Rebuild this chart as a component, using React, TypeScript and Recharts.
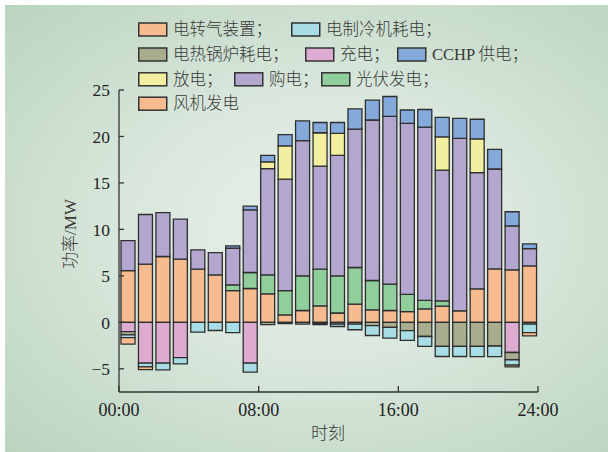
import React from 'react';
import { BarChart, Bar, XAxis, YAxis, Legend, Label } from 'recharts';

// ---------- data ----------
const hours = [0.5, 1.5, 2.5, 3.5, 4.5, 5.5, 6.5, 7.5, 8.5, 9.5, 10.5, 11.5, 12.5, 13.5, 14.5, 15.5, 16.5, 17.5, 18.5, 19.5, 20.5, 21.5, 22.5, 23.5];

// positive side (bottom to top)
const windPower = [5.57, 6.26, 7.08, 6.8, 5.72, 5.1, 3.42, 3.64, 3.06, 0.8, 1.27, 1.77, 1.0, 1.96, 1.34, 1.27, 1.16, 1.45, 1.74, 1.24, 3.6, 5.75, 5.64, 6.08];
const pvPower = [0, 0, 0, 0, 0, 0, 0.6, 1.72, 2.04, 2.62, 3.73, 3.95, 4.0, 3.94, 3.16, 2.83, 1.84, 0.9, 0.57, 0, 0, 0, 0, 0];
const purchasePower = [3.23, 5.34, 4.72, 4.3, 2.08, 2.4, 3.95, 6.74, 11.44, 11.98, 14.55, 11.08, 12.97, 14.9, 17.27, 18.07, 18.4, 18.65, 14.06, 18.56, 12.5, 10.75, 4.74, 1.86];
const dischargePower = [0, 0, 0, 0, 0, 0, 0, 0, 0.72, 3.58, 0, 3.6, 2.37, 0, 0, 0, 0, 0, 3.58, 0, 3.63, 0, 0, 0];
const cchpPower = [0, 0, 0, 0, 0, 0, 0.25, 0.4, 0.71, 1.22, 2.12, 1.1, 1.16, 2.16, 2.13, 2.13, 1.45, 1.9, 2.11, 2.15, 2.12, 2.12, 1.52, 0.5];

// negative side (from zero downward)
const chargePower = [-1.0, -4.4, -4.4, -3.8, 0, 0, 0, -4.4, 0, 0, 0, 0, 0, 0, 0, 0, 0, 0, 0, 0, 0, 0, -3.25, 0];
const boilerPower = [-0.35, 0, 0, 0, 0, 0, 0, 0, -0.25, 0, -0.2, -0.15, -0.2, -0.2, -0.35, -0.55, -0.9, -1.53, -2.6, -2.6, -2.6, -2.55, -0.78, -0.2];
const chillerPower = [-0.3, -0.4, -0.72, -0.68, -1.06, -0.88, -1.1, -0.96, 0, -0.15, 0, -0.1, -0.25, -0.6, -1.07, -1.15, -1.05, -1.07, -1.08, -1.08, -1.1, -1.15, -0.57, -0.9];
const p2gPower = [-0.7, -0.3, 0, 0, 0, 0, 0, 0, 0, 0, 0, 0, 0, 0, 0, 0, 0, 0, 0, 0, 0, 0, -0.2, -0.35];

const xTicks = [0, 8, 16, 24];
const xTickLabels = ['00:00', '08:00', '16:00', '24:00'];
const yTicks = [-5, 0, 5, 10, 15, 20, 25];

const seriesNames: Record<string, string> = {
  wind: '风机发电',
  pv: '光伏发电',
  purchase: '购电',
  discharge: '放电',
  cchp: 'CCHP 供电',
  charge: '充电',
  boiler: '电热锅炉耗电',
  chiller: '电制冷机耗电',
  p2g: '电转气装置',
};

const data = hours.map((h, i) => ({
  hour: h,
  wind: windPower[i],
  pv: pvPower[i],
  purchase: purchasePower[i],
  discharge: dischargePower[i],
  cchp: cchpPower[i],
  charge: chargePower[i],
  boiler: boilerPower[i],
  chiller: chillerPower[i],
  p2g: p2gPower[i],
}));

// ---------- styles ----------
const COLORS: Record<string, string> = {
  wind: '#f7bb90',
  pv: '#90cf9c',
  purchase: '#b3a6cf',
  discharge: '#f2f0a0',
  cchp: '#84aadc',
  charge: '#ddabd1',
  boiler: '#a8ad8e',
  chiller: '#a8dde6',
  p2g: '#f7bb90',
};
const STACK_ORDER = ['wind', 'pv', 'purchase', 'discharge', 'cchp', 'charge', 'boiler', 'chiller', 'p2g'];
const FONT = '"Liberation Serif", "Noto Sans CJK SC", serif';
const EDGE = '#2e2e2e';

const LEGEND_LAYOUT = [
  { key: 'p2g', x: 138, row: 0, sep: true },
  { key: 'chiller', x: 291, row: 0, sep: true },
  { key: 'boiler', x: 138, row: 1, sep: true },
  { key: 'charge', x: 305, row: 1, sep: true },
  { key: 'cchp', x: 397, row: 1, sep: true },
  { key: 'discharge', x: 138, row: 2, sep: true },
  { key: 'purchase', x: 234, row: 2, sep: true },
  { key: 'pv', x: 321, row: 2, sep: true },
  { key: 'wind', x: 138, row: 3, sep: false },
];
const ROW_Y = [29.5, 54.5, 79.3, 103.7];

const renderLegend = () => (
  <svg width={608} height={120} style={{ display: 'block' }}>
    {LEGEND_LAYOUT.map((it) => {
      const cy = ROW_Y[it.row];
      return (
        <g key={it.key}>
          <rect x={it.x + 0.75} y={cy - 6.5} width={28} height={13} fill={COLORS[it.key]} stroke="#333" strokeWidth={1.5} />
          <text x={it.x + 35} y={cy} dominantBaseline="central" fontSize={16.5} fontWeight={300} fill="#383838" fontFamily={FONT}>
            {seriesNames[it.key] + (it.sep ? '；' : '')}
          </text>
        </g>
      );
    })}
  </svg>
);

const fmtY = (v: number) => (v < 0 ? `\u2212${-v}` : String(v));
const fmtX = (v: number) => xTickLabels[xTicks.indexOf(v)] ?? '';

const YLabel = () => {
  const cx = 70;
  const cy = 234;
  return (
    <text x={cx} y={cy} transform={`rotate(-90 ${cx} ${cy})`} textAnchor="middle" dominantBaseline="central" fontSize={17} fontWeight={300} fill="#383838" fontFamily={FONT}>
      功率/MW
    </text>
  );
};

const XLabel = () => (
  <text x={328} y={433} textAnchor="middle" dominantBaseline="central" fontSize={17} fontWeight={300} fill="#383838" fontFamily={FONT}>
    时刻
  </text>
);

export default function App() {
  return (
    <div style={{ position: 'absolute', left: 0, top: 0, width: 608, height: 452, background: '#ffffff', overflow: 'hidden' }}>
      <div
        style={{
          position: 'absolute',
          left: 5,
          top: 5,
          right: 0,
          bottom: 0,
          background: 'radial-gradient(ellipse at 53% 50%, #e9f1eb 0%, #dbe8de 40%, #bad4be 100%)',
        }}
      />
      <div style={{ position: 'absolute', left: 0, top: 0 }}>
        <BarChart
          width={608}
          height={452}
          data={data}
          stackOffset="sign"
          barSize={14}
          margin={{ top: 90, right: 70, bottom: 0, left: 59 }}
        >
          <XAxis
            type="number"
            dataKey="hour"
            domain={[0, 24]}
            ticks={xTicks}
            tickFormatter={fmtX}
            height={60}
            tickSize={-6}
            tickMargin={17}
            axisLine={{ stroke: '#333', strokeWidth: 1.3 }}
            tickLine={{ stroke: '#333', strokeWidth: 1.3 }}
            tick={{ fill: '#222', fontSize: 18, fontFamily: FONT }}
            interval={0}
          >
            <Label content={XLabel} />
          </XAxis>
          <YAxis
            type="number"
            domain={[-7.5, 25]}
            ticks={yTicks}
            tickFormatter={fmtY}
            width={60}
            tickSize={-5}
            tickMargin={14}
            axisLine={{ stroke: '#333', strokeWidth: 1.3 }}
            tickLine={{ stroke: '#333', strokeWidth: 1.3 }}
            tick={{ fill: '#222', fontSize: 17.5, fontFamily: FONT }}
            interval={0}
          >
            <Label content={YLabel} />
          </YAxis>
          <Legend
            layout="vertical"
            align="center"
            verticalAlign="middle"
            content={renderLegend}
            wrapperStyle={{ position: 'absolute', left: 0, top: 0, width: 608, height: 120, pointerEvents: 'none' }}
          />
          {STACK_ORDER.map((k) => (
            <Bar
              key={k}
              dataKey={k}
              name={seriesNames[k]}
              stackId="power"
              fill={COLORS[k]}
              stroke={EDGE}
              strokeWidth={1.3}
              isAnimationActive={false}
            />
          ))}
        </BarChart>
      </div>
    </div>
  );
}
